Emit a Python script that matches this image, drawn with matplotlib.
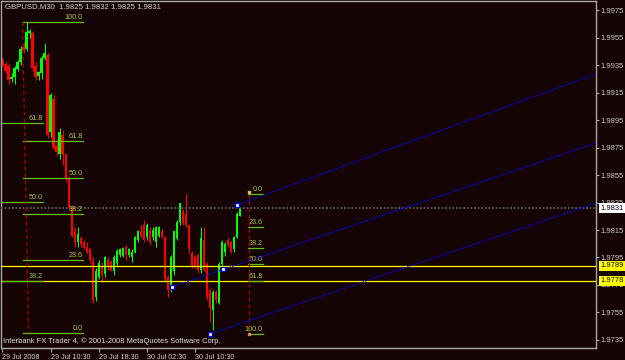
import numpy as np
import matplotlib.pyplot as plt

plt.rcParams['font.family'] = ['Liberation Sans', 'DejaVu Sans']

# GBPUSD M30 candles, 29-30 Jul 2008
opens = [1.9939, 1.9936, 1.9934, 1.9925, 1.9926, 1.9932, 1.9937, 1.9948, 1.9947, 1.9958,
         1.9958, 1.9934, 1.9927, 1.9929, 1.9940, 1.9942, 1.9886, 1.9910, 1.9876, 1.9870,
         1.9884, 1.9870, 1.9853, 1.9832, 1.9814, 1.9806, 1.9809, 1.9806, 1.9803, 1.9801,
         1.9792, 1.9766, 1.9781, 1.9789, 1.9783, 1.9793, 1.9792, 1.9785, 1.9791, 1.9797,
         1.9796, 1.9803, 1.9797, 1.9795, 1.9799, 1.9808, 1.9814, 1.9819, 1.9810, 1.9815,
         1.9810, 1.9806, 1.9811, 1.9814, 1.9810, 1.9781, 1.9771, 1.9785, 1.9809, 1.9821,
         1.9828, 1.9827, 1.9819, 1.9798, 1.9795, 1.9797, 1.9786, 1.9808, 1.9790, 1.9771,
         1.9757, 1.9770, 1.9762, 1.9790, 1.9799, 1.9808, 1.9806, 1.9801, 1.9810, 1.9825]
highs = [1.9941, 1.9937, 1.9936, 1.9929, 1.9934, 1.9939, 1.9949, 1.9952, 1.9966, 1.9961,
         1.9960, 1.9937, 1.9931, 1.9942, 1.9951, 1.9944, 1.9915, 1.9913, 1.9881, 1.9889,
         1.9888, 1.9870, 1.9854, 1.9833, 1.9817, 1.9817, 1.9811, 1.9808, 1.9806, 1.9802,
         1.9795, 1.9787, 1.9793, 1.9792, 1.9796, 1.9795, 1.9793, 1.9797, 1.9801, 1.9802,
         1.9803, 1.9804, 1.9802, 1.9801, 1.9811, 1.9815, 1.9819, 1.9822, 1.9820, 1.9817,
         1.9817, 1.9818, 1.9818, 1.9816, 1.9811, 1.9782, 1.9797, 1.9815, 1.9822, 1.9835,
         1.9830, 1.9841, 1.9819, 1.9800, 1.9797, 1.9798, 1.9817, 1.9817, 1.9792, 1.9773,
         1.9771, 1.9771, 1.9792, 1.9808, 1.9806, 1.9809, 1.9807, 1.9811, 1.9828, 1.9832]
lows = [1.9934, 1.9929, 1.9921, 1.9923, 1.9921, 1.9931, 1.9935, 1.9944, 1.9945, 1.9955,
        1.9931, 1.9924, 1.9924, 1.9925, 1.9939, 1.9882, 1.9883, 1.9873, 1.9869, 1.9867,
        1.9862, 1.9851, 1.9830, 1.9810, 1.9803, 1.9803, 1.9803, 1.9801, 1.9798, 1.9791,
        1.9762, 1.9763, 1.9779, 1.9777, 1.9781, 1.9786, 1.9785, 1.9782, 1.9789, 1.9795,
        1.9795, 1.9793, 1.9795, 1.9792, 1.9798, 1.9806, 1.9809, 1.9806, 1.9808, 1.9804,
        1.9808, 1.9803, 1.9810, 1.9809, 1.9777, 1.9766, 1.9770, 1.9782, 1.9808, 1.9819,
        1.9819, 1.9817, 1.9798, 1.9787, 1.9787, 1.9784, 1.9784, 1.9785, 1.9764, 1.9748,
        1.9742, 1.9762, 1.9761, 1.9787, 1.9796, 1.9803, 1.9798, 1.9799, 1.9809, 1.9825]
closes = [1.9935, 1.9931, 1.9924, 1.9926, 1.9933, 1.9937, 1.9947, 1.9946, 1.9959, 1.9960,
          1.9933, 1.9926, 1.9930, 1.9940, 1.9944, 1.9884, 1.9913, 1.9875, 1.9872, 1.9886,
          1.9870, 1.9853, 1.9832, 1.9811, 1.9806, 1.9812, 1.9805, 1.9802, 1.9799, 1.9793,
          1.9764, 1.9785, 1.9791, 1.9782, 1.9795, 1.9788, 1.9786, 1.9795, 1.9800, 1.9801,
          1.9802, 1.9797, 1.9801, 1.9799, 1.9810, 1.9814, 1.9811, 1.9808, 1.9819, 1.9806,
          1.9815, 1.9817, 1.9817, 1.9810, 1.9779, 1.9771, 1.9795, 1.9814, 1.9821, 1.9835,
          1.9820, 1.9819, 1.9801, 1.9788, 1.9789, 1.9786, 1.9809, 1.9786, 1.9766, 1.9758,
          1.9770, 1.9764, 1.9790, 1.9806, 1.9805, 1.9804, 1.9799, 1.9810, 1.9827, 1.9831]

time_ticks = [0, 16, 32, 48, 64]
time_labels = ["29 Jul 2008", "29 Jul 10:30", "29 Jul 18:30", "30 Jul 02:30", "30 Jul 10:30"]
price_ticks = [1.9735, 1.9755, 1.9775, 1.9795, 1.9815, 1.9835, 1.9855,
               1.9875, 1.9895, 1.9915, 1.9935, 1.9955, 1.9975]

bid = 1.9831
level_lines = [1.9789, 1.9778]

# fibonacci retracements: price at 0.0 / 100.0 and bar span of the levels
fib_p0 = [1.9740, 1.9592, 1.9841]
fib_p100 = [1.9966, 2.0079, 1.9739]
fib_from = [6.67, -0.33, 81.67]
fib_to = [26.67, 13.33, 86.67]
fib_levels = [0.0, 23.6, 38.2, 50.0, 61.8, 100.0]

# channel lines: anchor (bar, price) and price where each leaves the chart on the right
chan_bars = [56.3, 78, 69]
chan_prices = [1.97735, 1.98332, 1.97394]
chan_end_prices = [1.98783, 1.99285, 1.98346]
mid_bar, mid_price = 73.5, 1.97863

bg = '#160303'
up_col, dn_col = '#00ff00', '#ff0000'
fib_col, fib_txt = '#66c000', '#a8cc40'
grey = '#a8a8a8'

fig = plt.figure(figsize=(6.25, 3.6), dpi=100, facecolor=bg)
ax = fig.add_axes([1.5 / 625, 12 / 360, 594.5 / 625, 347 / 360], facecolor=bg)

x = np.arange(len(closes))
o, h, l, c = map(np.array, (opens, highs, lows, closes))
bull = c >= o
cols = np.where(bull, up_col, dn_col)
ax.vlines(x, l, h, colors=cols, lw=0.75, zorder=2)
body = np.maximum(np.abs(c - o), 0.00004)
ax.bar(x, body, bottom=np.minimum(o, c), width=0.7, color=cols, lw=0, zorder=2)

# horizontal lines
ax.axhline(bid, color='#5c5c5c', lw=1.3, ls=(0, (1, 1)), zorder=3)
for p in level_lines:
    ax.axhline(p, color='#ffff00', lw=0.9, zorder=3)

# fibonacci objects
for p0, p100, a, b in zip(fib_p0, fib_p100, fib_from, fib_to):
    for lv in fib_levels:
        p = p0 + lv / 100 * (p100 - p0)
        ax.plot([a, b], [p, p], color=fib_col, lw=0.9, zorder=4)
        ax.annotate(f"{lv:.1f}", (b, p), xytext=(0, 0.8), textcoords='offset points',
                    ha='right', va='bottom', fontsize=5.2, color=fib_txt,
                    annotation_clip=True, zorder=4)
ax.plot([6.67, 8.67], [fib_p100[0], fib_p0[0]], color='#b00000', lw=0.9, ls=(0, (3, 2.5)), zorder=4)
ax.plot([82, 82], [fib_p0[2], fib_p100[2]], color='#b00000', lw=0.9, ls=(0, (3, 2.5)), zorder=4)
ax.plot([82], [fib_p0[2] + 0.0002], 's', ms=1.6, color='#e0c060', zorder=5)
ax.plot([82], [fib_p100[2]], 's', ms=1.8, color='#e08080', zorder=5)

# channel
xr = 197.67
for b0, p0, pe in zip(chan_bars, chan_prices, chan_end_prices):
    ax.plot([b0, xr], [p0, pe], color='#0000ff', lw=0.8, ls=(0, (1.5, 1)), zorder=5)
ax.plot(chan_bars + [mid_bar], chan_prices + [mid_price], 's', ms=3.2, mfc='white',
        mec='#0000ff', mew=0.9, zorder=6)

ax.set_xlim(-0.333, xr)
ax.set_ylim(1.972918, 1.998155)

for s in ax.spines.values():
    s.set_color(grey)
    s.set_linewidth(1)

ax.yaxis.tick_right()
ax.set_yticks(price_ticks)
ax.set_yticklabels([f"{p:.4f}" for p in price_ticks])
ax.tick_params(axis='y', length=2, width=0.8, color=grey, labelcolor='#d0d0d0',
               labelsize=5.4, pad=1.5)
ax.set_xticks(time_ticks)
ax.set_xticklabels(time_labels)
ax.tick_params(axis='x', length=3, width=0.8, color=grey, labelcolor='#d0d0d0',
               labelsize=5.2, pad=1)
for t in ax.get_xticklabels():
    t.set_ha('left')

# price markers on the right scale
ax.annotate(f"{bid:.4f}", (1.0, bid), xycoords=('axes fraction', 'data'), xytext=(3, 0),
            textcoords='offset points', ha='left', va='center', fontsize=5.4, color='black',
            bbox=dict(boxstyle='square,pad=0.2', fc='white', ec='none'), zorder=10)
for p in level_lines:
    ax.annotate(f"{p:.4f}", (1.0, p), xycoords=('axes fraction', 'data'), xytext=(3, 0),
                textcoords='offset points', ha='left', va='center', fontsize=5.4, color='black',
                bbox=dict(boxstyle='square,pad=0.2', fc='#ffff00', ec='none'), zorder=10)

fig.text(5 / 625, 1 - 7 / 360, "GBPUSD,M30  1.9825 1.9832 1.9825 1.9831", fontsize=5.6,
         color='#d8d8d8', va='center', ha='left')
fig.text(3 / 625, 1 - 341 / 360, "Interbank FX Trader 4, \u00a9 2001-2008 MetaQuotes Software Corp.",
         fontsize=5.4, color='#e0e0e0', va='center', ha='left')

fig.savefig('out.png', dpi=100, facecolor=bg)
